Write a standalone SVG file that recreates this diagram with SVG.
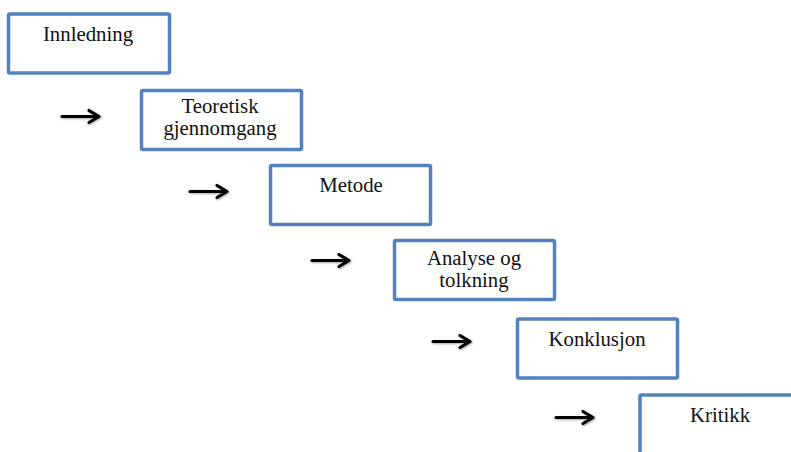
<svg xmlns="http://www.w3.org/2000/svg" width="791" height="452" viewBox="0 0 791 452">
<style>
.box{fill:#fff;stroke:#5482C0;stroke-width:3.5}
.t{font-family:"Liberation Serif","Times New Roman",serif;font-size:20.8px;fill:#111;text-anchor:middle}
.arr{stroke:#000;stroke-width:3.2;fill:none;stroke-linecap:round;stroke-linejoin:round}
</style>
<defs>
<filter id="sh" x="-20%" y="-50%" width="140%" height="200%">
<feGaussianBlur in="SourceAlpha" stdDeviation="0.8"/>
<feOffset dx="0.8" dy="1" result="b"/>
<feFlood flood-color="#000" flood-opacity="0.35"/>
<feComposite in2="b" operator="in"/>
<feMerge><feMergeNode/><feMergeNode in="SourceGraphic"/></feMerge>
</filter>
</defs>
<rect width="791" height="452" fill="#fff"/>
<g id="connectors" filter="url(#sh)">
<path class="arr" d="M62,116.5 H99 M89,110.5 L99,116.5 L89,122.5"/>
<path class="arr" d="M190,191.5 H227 M217,185.5 L227,191.5 L217,197.5"/>
<path class="arr" d="M312,260.5 H349 M339,254.5 L349,260.5 L339,266.5"/>
<path class="arr" d="M433,341.5 H470 M460,335.5 L470,341.5 L460,347.5"/>
<path class="arr" d="M556,417.5 H593 M583,411.5 L593,417.5 L583,423.5"/>
</g>
<g id="n1"><rect class="box" x="8.5" y="14" width="161" height="59" rx="1.5"/><text class="t" x="88" y="41">Innledning</text></g>
<g id="n2"><rect class="box" x="141.5" y="90.5" width="160" height="59" rx="1.5"/><text class="t" x="220" y="113">Teoretisk</text><text class="t" x="220" y="135">gjennomgang</text></g>
<g id="n3"><rect class="box" x="270.5" y="165.5" width="160" height="59" rx="1.5"/><text class="t" x="351" y="192">Metode</text></g>
<g id="n4"><rect class="box" x="394.5" y="240.5" width="160" height="59" rx="1.5"/><text class="t" x="474" y="265">Analyse og</text><text class="t" x="474" y="287">tolkning</text></g>
<g id="n5"><rect class="box" x="517.5" y="319" width="160" height="59" rx="1.5"/><text class="t" x="597" y="346">Konklusjon</text></g>
<g id="n6"><rect class="box" x="640" y="395" width="160" height="70" rx="1.5"/><text class="t" x="720" y="422">Kritikk</text></g>
</svg>
